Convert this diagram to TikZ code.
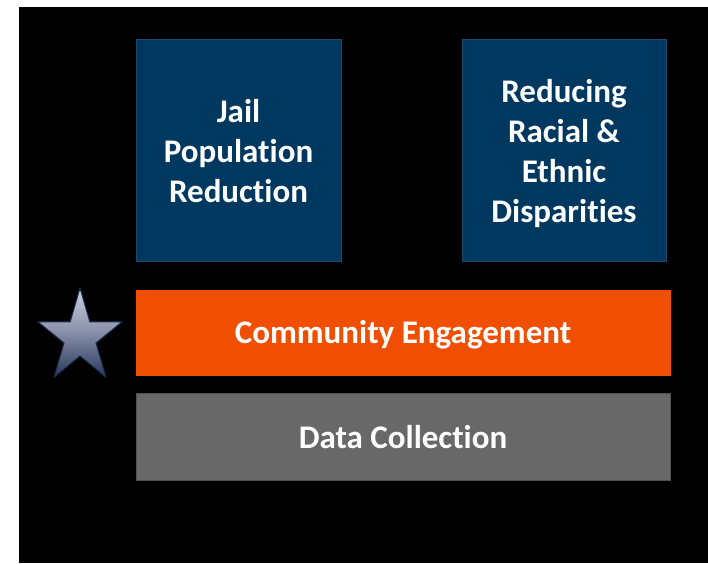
\documentclass[tikz,border=0pt]{standalone}
\usepackage{fontspec}
\setmainfont{Carlito}[Ligatures={NoCommon}]
\begin{document}
\begin{tikzpicture}[x=1pt,y=1pt,
  boxtext/.style={text=white,font=\bfseries\fontsize{33}{40}\selectfont,align=center,inner sep=0pt},
  bluebox/.style={fill=navybox,draw=navyedge,line width=1pt},
  barbox/.style={line width=1pt}]
\definecolor{navybox}{RGB}{0,56,96}
\definecolor{navyedge}{RGB}{30,72,105}
\definecolor{orangebar}{RGB}{240,78,0}
\definecolor{graybar}{RGB}{104,104,104}
\definecolor{grayedge}{RGB}{80,80,80}
\definecolor{startop}{RGB}{205,208,222}
\definecolor{starmid}{RGB}{135,143,168}
\definecolor{starbot}{RGB}{40,55,90}
\definecolor{staredge}{RGB}{25,45,80}
\useasboundingbox (0,0) rectangle (708,563);
\fill[white] (0,0) rectangle (708,563);
\fill[black] (19,0) rectangle (708,556);
% top boxes
\draw[bluebox] (136,302) rectangle (341,523);
\node[boxtext] (jail) at (238.5,411.5) {Jail\\Population\\Reduction};
\draw[bluebox] (462,302) rectangle (666,523);
\node[boxtext] (racial) at (564,409.5) {Reducing\\Racial \&\\Ethnic\\Disparities};
% bars
\draw[barbox,fill=orangebar,draw=orangebar] (136,188) rectangle (670,273);
\node[boxtext] (community) at (403,228.5) {Community Engagement};
\draw[barbox,fill=graybar,draw=grayedge] (136,83) rectangle (670,170);
\node[boxtext] (data) at (403,126) {Data Collection};
% star
\begin{scope}[shift={(80,225.8)}]
\path[draw=staredge,line width=1pt,line join=miter,top color=startop,bottom color=starbot,middle color=starmid]
  (90:44pt and 49.2pt) -- (126:16.8pt and 18.8pt) --
  (162:44pt and 49.2pt) -- (198:16.8pt and 18.8pt) --
  (234:44pt and 49.2pt) -- (270:16.8pt and 18.8pt) --
  (306:44pt and 49.2pt) -- (342:16.8pt and 18.8pt) --
  (18:44pt and 49.2pt) -- (54:16.8pt and 18.8pt) -- cycle;
\end{scope}
\end{tikzpicture}
\end{document}
